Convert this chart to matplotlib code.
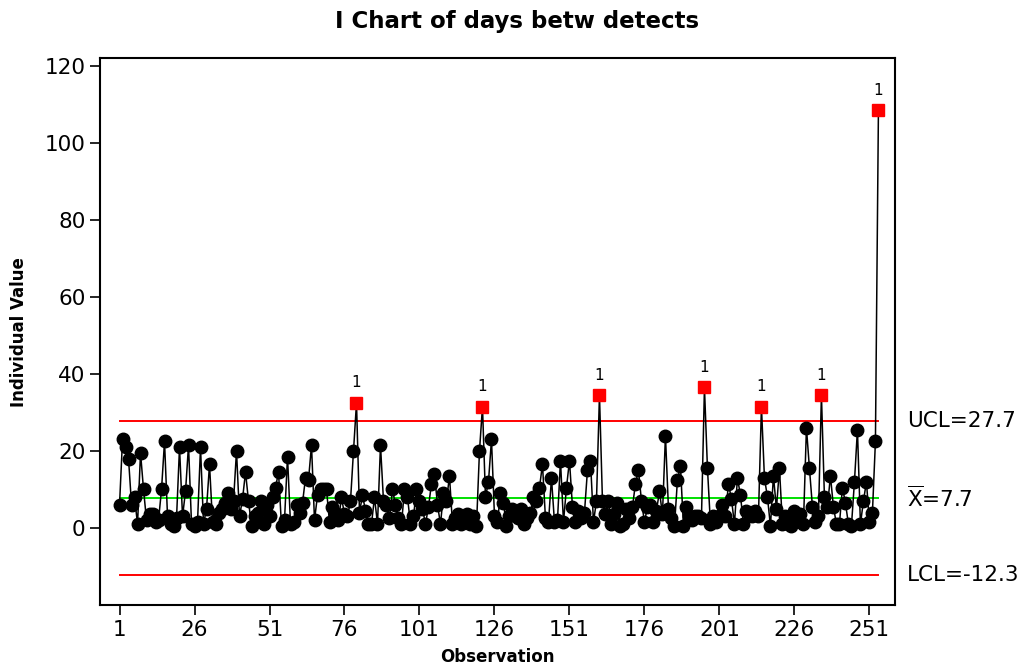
import numpy as np
import matplotlib
matplotlib.use('Agg')
import matplotlib.pyplot as plt

plt.rcParams['mathtext.fontset'] = 'dejavusans'

# days between detects (approximate)
days = [
    6, 23, 21, 18, 6, 8, 1, 19.5, 10, 2, 3.5,
    3.5, 1.5, 2, 10, 22.5, 3, 1, 0.5, 2.5, 21,
    3, 9.5, 21.5, 1, 0.5, 1.5, 21, 1, 5, 16.5,
    1.5, 1, 4, 5, 6.5, 9, 5, 7, 20, 3,
    7.5, 14.5, 7, 0.5, 3, 4, 7, 1, 6, 3,
    8, 10.5, 14.5, 0.5, 2, 18.5, 1, 1.5, 6, 4,
    6.5, 13, 12.5, 21.5, 2, 8.5, 10, 10, 10, 1.5,
    5.5, 4, 2, 8, 3.5, 3, 7, 20, 32.5, 4,
    8.5, 4.5, 1, 1, 8, 1, 21.5, 7, 6, 2.5,
    10, 6, 2.5, 1, 10, 8, 1, 3, 10, 7,
    5, 1, 5.5, 11.5, 14, 6, 1, 9, 7, 13.5,
    1, 2.5, 3.5, 1, 2, 3.5, 1, 3, 0.5, 20,
    31.5, 8, 12, 23, 3, 1.5, 9, 6.5, 0.5, 3,
    5, 3.5, 2.5, 5, 1, 2.5, 4, 8, 7, 10.5,
    16.5, 2.5, 1.5, 13, 1.5, 2, 17.5, 1.5, 10.5, 17.5,
    5.5, 1.5, 4.5, 2.5, 4, 15, 17.5, 1.5, 7, 34.5,
    7, 3.5, 7, 1, 3.5, 6.5, 0.5, 1, 5, 2.5,
    5.5, 11.5, 15, 7, 1.5, 5.5, 6, 1.5, 4.5, 9.5,
    3.5, 24, 5, 2.5, 0.5, 12.5, 16, 0.5, 5.5,
    3, 2, 3, 3, 2.5, 36.5, 15.5, 1, 3, 1.5,
    3, 6, 3, 11.5, 7.5, 1, 13, 8.5, 1, 4.5,
    4, 3, 4.5, 3, 31.5, 13, 8, 0.5, 13.5, 5,
    15.5, 1, 3, 1, 0.5, 4.5, 2, 3.5, 1, 26,
    15.5, 5.5, 1.5, 3, 34.5, 8, 5.5, 13.5, 5.5, 1,
    1, 10.5, 6.5, 1, 0.5, 12, 25.5, 1, 7, 12,
    1.5, 4, 22.5, 108.5,
]

ucl = 27.7
center = 7.7
lcl = -12.3

x_ticks = [1, 26, 51, 76, 101, 126, 151, 176, 201, 226, 251]
y_ticks = [0, 20, 40, 60, 80, 100, 120]

obs = np.arange(1, len(days) + 1)
vals = np.array(days)
out = vals > ucl

fig = plt.figure(figsize=(10.27, 6.69), dpi=100)
ax = fig.add_axes([0.0974, 0.0957, 0.774, 0.8173])

# control limits
ax.plot([obs[0], obs[-1]], [ucl, ucl], color='#ff0000', lw=1.4, zorder=1)
ax.plot([obs[0], obs[-1]], [lcl, lcl], color='#ff0000', lw=1.4, zorder=1)
ax.plot([obs[0], obs[-1]], [center, center], color='#00e000', lw=1.4, zorder=1)

ax.plot(obs, vals, color='black', lw=1.1, zorder=2)
ax.plot(obs[~out], vals[~out], 'o', color='black', ms=9, zorder=3)
ax.plot(obs[out], vals[out], 's', color='#ff0000', ms=9, mec='#ff0000', zorder=4)
for xo, yo in zip(obs[out], vals[out]):
    ax.annotate('1', (xo, yo), xytext=(0, 9), textcoords='offset points',
                ha='center', va='bottom', fontsize=11)

ax.set_xlim(-5.5, 259.5)
ax.set_ylim(-20, 122)
ax.set_xticks(x_ticks)
ax.set_yticks(y_ticks)
ax.tick_params(axis='both', labelsize=15.5, length=7, width=1.2)
for sp in ax.spines.values():
    sp.set_linewidth(1.5)

ax.set_xlabel('Observation', fontsize=12, fontweight='bold', labelpad=6)
ax.set_ylabel('Individual Value', fontsize=12, fontweight='bold', labelpad=12)
ax.set_title('I Chart of days betw detects', fontsize=16.5, fontweight='bold',
             pad=22, x=0.525)

ax.text(1.015, ucl, 'UCL=27.7', transform=ax.get_yaxis_transform(),
        va='center', ha='left', fontsize=15.5)
ax.text(1.015, center, r'$\overline{\mathrm{X}}$=7.7', transform=ax.get_yaxis_transform(),
        va='center', ha='left', fontsize=15.5)
ax.text(1.015, lcl, 'LCL=-12.3', transform=ax.get_yaxis_transform(),
        va='center', ha='left', fontsize=15.5)

fig.savefig('out.png', dpi=100)
